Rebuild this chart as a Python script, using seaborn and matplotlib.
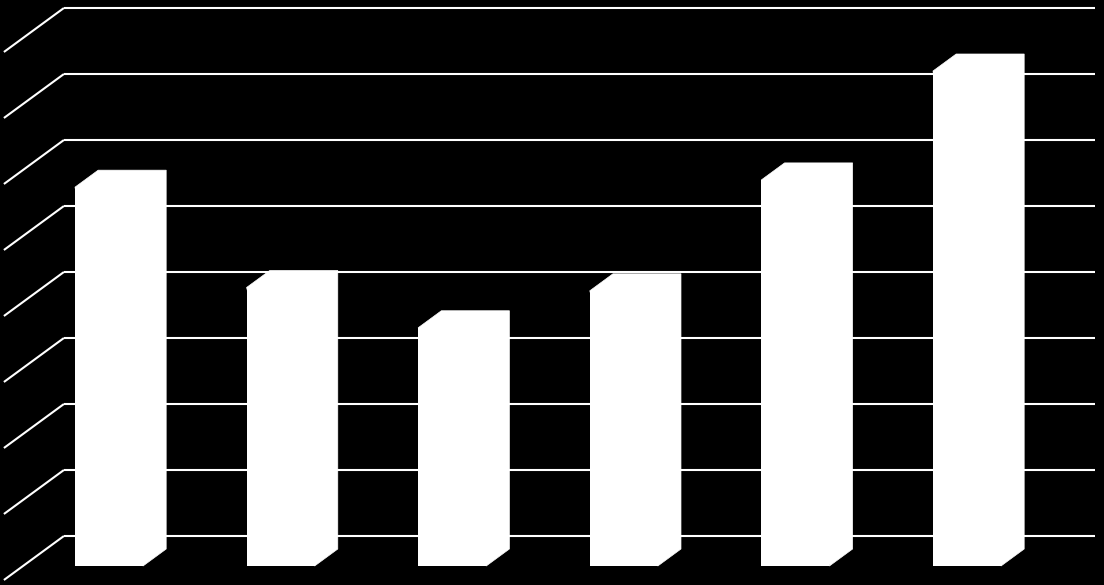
import numpy as np
import pandas as pd
import seaborn as sns
import matplotlib.pyplot as plt
from matplotlib.patches import Polygon

## Data (unit = one gridline step)
categories = ["1", "2", "3", "4", "5", "6"]
values = [5.74, 4.22, 3.61, 4.17, 5.85, 7.50]
grid_levels = list(range(0, 9))

df = pd.DataFrame({"cat": categories, "val": values})

## Geometry of the fake 3D box (pixel sizes converted to data units)
px_x = 171.6          # pixels per category step
px_y = 66.0           # pixels per value unit
depth_x = 60 / px_x   # full floor depth, horizontal shift
depth_y = 44 / px_y   # full floor depth, vertical shift
f_front = 14 / 44     # bar front plane, as a fraction of the depth
f_back = 31 / 44      # bar back plane
bar_w = 68 / px_x
wall_left = (23 - 109) / px_x
wall_right = (1054 - 109) / px_x

fig = plt.figure(figsize=(11.04, 5.85), dpi=100, facecolor="black")
ax = fig.add_axes([0, 0, 1, 1])
ax.set_facecolor("black")

## back wall + left wall gridlines
bx = (1 - f_front) * depth_x
by = (1 - f_front) * depth_y
fx = -f_front * depth_x
fy = -f_front * depth_y
for v in grid_levels:
    ax.plot([wall_left + bx, wall_right + bx], [v + by, v + by],
            color="white", lw=1.5, zorder=1, solid_capstyle="butt")
    ax.plot([wall_left + fx, wall_left + bx], [v + fy, v + by],
            color="white", lw=1.5, zorder=1, solid_capstyle="butt")

## front faces of the columns
sns.barplot(data=df, x="cat", y="val", color="white", saturation=1,
            width=bar_w, linewidth=0, ax=ax, zorder=3)

## top and side faces
dx = (f_back - f_front) * depth_x
dy = (f_back - f_front) * depth_y
for i, v in enumerate(values):
    l, r = i - bar_w / 2, i + bar_w / 2
    pts = [(l, v), (l + dx, v + dy), (r + dx, v + dy), (r + dx, dy), (r, 0)]
    ax.add_patch(Polygon(pts, closed=True, facecolor="white",
                         edgecolor="white", lw=0.5, zorder=3))

ax.set_xlim(-109 / px_x, (1104 - 109) / px_x)
ax.set_ylim(-(585 - 566) / px_y, 566 / px_y)
ax.axis("off")

fig.savefig("out.png", dpi=100, facecolor="black")
